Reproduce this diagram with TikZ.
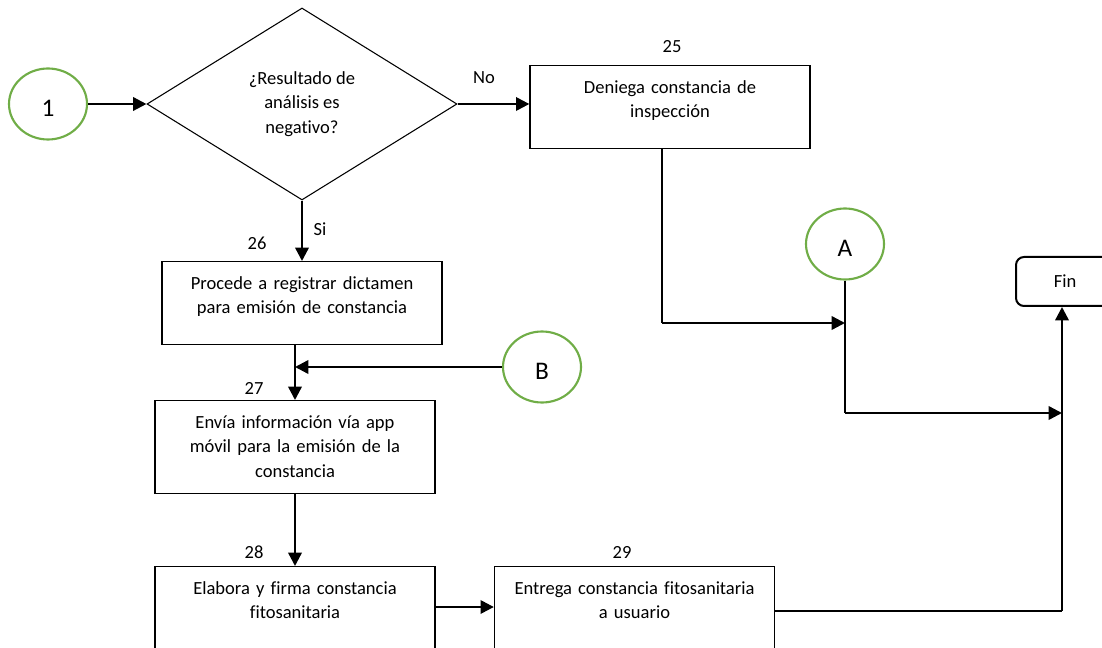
\documentclass[tikz,border=0pt]{standalone}
\usepackage{fontspec}
\setmainfont{Carlito}[Ligatures=NoCommon]
\usetikzlibrary{arrows.meta,positioning,shapes.geometric}
\definecolor{circgreen}{HTML}{70AD47}

\begin{document}
\begin{tikzpicture}[
    x=0.75pt, y=-0.75pt,
    every node/.style={font=\fontsize{13.9}{18.4}\selectfont},
    decision/.style={diamond, draw, line width=0.8pt, minimum width=232.5pt, minimum height=144pt, inner sep=0pt, align=center},
    process/.style={rectangle, draw, line width=1pt, minimum width=210pt, text width=195pt, align=center, inner sep=0pt, text height=20.6pt, anchor=north},
    connector/.style={ellipse, draw=circgreen, line width=1.6pt, minimum width=58.5pt, minimum height=53.25pt, inner sep=0pt, font=\fontsize{19}{22}\selectfont, text height=19pt, text depth=0pt},
    terminal/.style={rectangle, draw, rounded corners=6pt, line width=1.5pt, minimum width=73.5pt, minimum height=36.75pt},
    arrow/.style={-{Triangle[length=10pt, width=10pt]}, line width=1.8pt},
    wire/.style={line width=1.1pt},
    num/.style={inner sep=0pt},
    lbl/.style={inner sep=0pt}
]
\useasboundingbox (0,0) rectangle (1102,648);

% Connectors and decision
\node[connector] (n1) at (48,104) {1};
\node[decision] (d1) at (302,104) {¿Resultado de\\análisis es\\negativo?};
\node[connector] (nA) at (845,244) {A};
\node[connector] (nB) at (542,367) {B};

% Process boxes
\node[process, text depth=41.6pt] (p25) at (670,65) {Deniega constancia de\\inspección};
\node[process, text depth=41.6pt] (p26) at (302,261) {Procede a registrar dictamen\\para emisión de constancia};
\node[process, text depth=49.1pt] (p27) at (295,400) {Envía información vía app\\móvil para la emisión de la\\constancia};
\node[process, text depth=50pt] (p28) at (295,566) {Elabora y firma constancia\\fitosanitaria};
\node[process, text depth=50pt] (p29) at (634.5,566) {Entrega constancia fitosanitaria\\a usuario};

% End
\node[terminal] (fin) at (1065,281.5) {Fin};

% Step numbers and branch labels
\node[num] (l25) at (672,47) {25};
\node[num] (l26) at (257,243) {26};
\node[num] (l27) at (254,388) {27};
\node[num] (l28) at (254,552) {28};
\node[num] (l29) at (622,552) {29};
\node[lbl] (lno) at (484,78) {No};
\node[lbl] (lsi) at (320,229) {Si};

% Main flow
\draw[arrow] (n1) -- (d1);
\draw[arrow] (d1.east) -- (d1.east -| p25.west);
\draw[arrow] (d1.south) -- (p26.north);
\draw[arrow] (p26.south -| p27.north) -- (p27.north);
\draw[arrow] (nB) -- (nB -| p27.north);
\draw[arrow] (p27.south) -- (p28.north);
\draw[arrow] ([yshift=-30.75pt]p28.north east) -- ([yshift=-30.75pt]p29.north west);

% Right branch to Fin
\coordinate (k25) at (662,323);
\coordinate (kA) at (845,413);
\coordinate (kF) at (1062,611);
\draw[wire] (k25 |- p25.south) -- (k25);
\draw[arrow] (k25) -- (k25 -| nA);
\draw[wire] (nA.south) -- (kA);
\draw[arrow] (kA) -- (kA -| kF);
\draw[wire] (kF -| p29.east) -- (kF);
\draw[arrow] (kF) -- (kF |- fin.south);

\end{tikzpicture}
\end{document}
